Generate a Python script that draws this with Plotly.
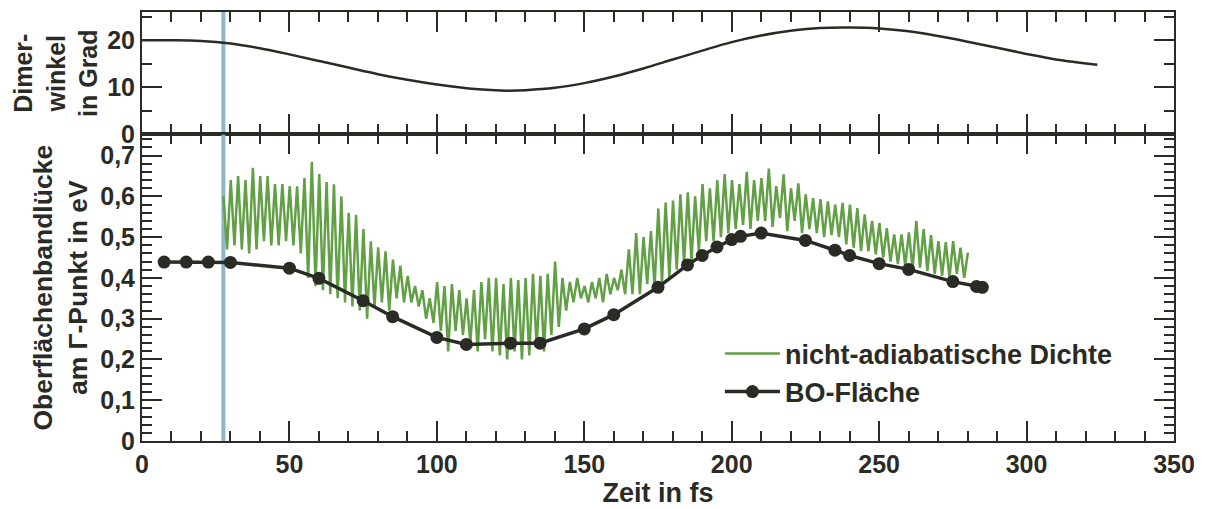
import plotly.graph_objects as go
from plotly.subplots import make_subplots

# ---------------- data ----------------
# Top panel: dimer angle (degrees) vs time (fs)
angle_t = [0, 10, 20, 30, 40, 50, 60, 70, 80, 90, 100, 110, 120, 125, 130, 140, 150,
           160, 170, 180, 190, 200, 210, 220, 230, 240, 250, 260, 270, 280, 290, 300, 310, 324]
angle_deg = [20.0, 20.0, 19.85, 19.3, 18.3, 17.0, 15.6, 14.2, 12.8, 11.6, 10.6, 9.8, 9.4, 9.3,
             9.4, 9.9, 10.9, 12.3, 14.0, 15.9, 17.8, 19.6, 21.0, 22.0, 22.6, 22.7, 22.5, 21.9,
             20.9, 19.7, 18.4, 17.1, 15.9, 14.8]

# Bottom panel: BO surface band gap
bo_t = [7.5, 15, 22.5, 30, 50, 60, 75, 85, 100, 110, 125, 135, 150, 160, 175, 185, 190,
        195, 200, 203, 210, 225, 235, 240, 250, 260, 275, 283, 285]
bo_gap = [0.439, 0.439, 0.439, 0.438, 0.424, 0.399, 0.344, 0.305, 0.254, 0.237, 0.240, 0.240,
          0.275, 0.310, 0.377, 0.432, 0.455, 0.476, 0.494, 0.502, 0.510, 0.492, 0.468, 0.455,
          0.435, 0.421, 0.391, 0.379, 0.377]

# Non-adiabatic density: alternating maxima / minima
na_t0 = 27.6      # first sample (fs)
na_step = 1.25    # spacing between successive extrema (fs)
na_gap = [
    0.60, 0.47, 0.64, 0.48, 0.65, 0.47, 0.64, 0.46, 0.67, 0.47,
    0.65, 0.49, 0.65, 0.48, 0.63, 0.48, 0.63, 0.49, 0.625, 0.48,
    0.625, 0.46, 0.645, 0.40, 0.685, 0.38, 0.655, 0.37, 0.635, 0.36,
    0.63, 0.35, 0.60, 0.34, 0.56, 0.33, 0.555, 0.32, 0.52, 0.30,
    0.49, 0.33, 0.475, 0.34, 0.465, 0.32, 0.445, 0.35, 0.43, 0.34,
    0.405, 0.34, 0.38, 0.33, 0.37, 0.30, 0.35, 0.29, 0.39, 0.27,
    0.38, 0.22, 0.385, 0.27, 0.37, 0.26, 0.35, 0.24, 0.37, 0.22,
    0.39, 0.25, 0.40, 0.22, 0.40, 0.21, 0.385, 0.20, 0.40, 0.22,
    0.395, 0.20, 0.40, 0.21, 0.41, 0.23, 0.405, 0.22, 0.41, 0.26,
    0.44, 0.28, 0.40, 0.32, 0.39, 0.34, 0.40, 0.35, 0.38, 0.34,
    0.39, 0.35, 0.40, 0.34, 0.41, 0.36, 0.40, 0.37, 0.42, 0.36,
    0.47, 0.36, 0.51, 0.36, 0.50, 0.385, 0.515, 0.38, 0.57, 0.39,
    0.585, 0.40, 0.59, 0.42, 0.605, 0.435, 0.61, 0.44, 0.60, 0.465,
    0.63, 0.49, 0.62, 0.49, 0.64, 0.50, 0.655, 0.51, 0.64, 0.52,
    0.63, 0.53, 0.66, 0.52, 0.64, 0.54, 0.645, 0.54, 0.668, 0.525,
    0.625, 0.547, 0.654, 0.515, 0.62, 0.54, 0.632, 0.51, 0.605, 0.52,
    0.596, 0.51, 0.593, 0.50, 0.588, 0.505, 0.58, 0.50, 0.584, 0.482,
    0.58, 0.474, 0.571, 0.466, 0.556, 0.465, 0.54, 0.458, 0.535, 0.45,
    0.522, 0.44, 0.507, 0.434, 0.507, 0.43, 0.512, 0.422, 0.54, 0.425,
    0.52, 0.417, 0.505, 0.41, 0.49, 0.405, 0.488, 0.40, 0.49, 0.41,
    0.474, 0.40, 0.462,
]
na_t = [na_t0 + na_step * i for i in range(len(na_gap))]

marker_time = 27.6  # vertical reference line (fs)

x_ticks = [0, 50, 100, 150, 200, 250, 300, 350]

# ---------------- figure ----------------
DARK = "#2b2b26"
GREEN = "#62a046"
BLUE = "#8fb5c6"
FONT = "Liberation Sans, Arial, sans-serif"

fig = make_subplots(rows=2, cols=1, shared_xaxes=True, vertical_spacing=0,
                    row_heights=[0.2854, 0.7146])

# vertical marker line in both panels
fig.add_trace(go.Scatter(x=[marker_time, marker_time], y=[0, 26], mode="lines",
                         line=dict(color=BLUE, width=4), showlegend=False,
                         hoverinfo="skip"), row=1, col=1)
fig.add_trace(go.Scatter(x=[marker_time, marker_time], y=[0, 0.752], mode="lines",
                         line=dict(color=BLUE, width=4), showlegend=False,
                         hoverinfo="skip"), row=2, col=1)

fig.add_trace(go.Scatter(x=angle_t, y=angle_deg, mode="lines", line_shape="spline",
                         line=dict(color=DARK, width=2.5), showlegend=False),
              row=1, col=1)

fig.add_trace(go.Scatter(x=na_t, y=na_gap, mode="lines", name="nicht-adiabatische Dichte",
                         line=dict(color=GREEN, width=2.5)), row=2, col=1)
fig.add_trace(go.Scatter(x=bo_t, y=bo_gap, mode="lines+markers", name="BO-Fläche",
                         line=dict(color=DARK, width=3.5),
                         marker=dict(color=DARK, size=13)), row=2, col=1)

axis_common = dict(showline=True, linewidth=2, linecolor=DARK, mirror="allticks",
                   ticks="inside", ticklen=20, tickwidth=1.5, tickcolor=DARK,
                   showgrid=False, zeroline=False,
                   tickfont=dict(family=FONT, size=25, color=DARK, weight="bold"))

fig.update_xaxes(**axis_common, range=[0, 350], tickvals=x_ticks,
                 minor=dict(ticks="inside", ticklen=10, tickwidth=1.5, tickcolor=DARK,
                            dtick=10, tick0=0, showgrid=False))
fig.update_xaxes(showticklabels=False, row=1, col=1)
fig.update_xaxes(title=dict(text="Zeit in fs", standoff=2,
                            font=dict(family=FONT, size=27, color=DARK, weight="bold")),
                 row=2, col=1)

fig.update_yaxes(**axis_common, range=[0, 26], dtick=10, tick0=0,
                 minor=dict(ticks="inside", ticklen=10, tickwidth=1.5, tickcolor=DARK,
                            dtick=5, tick0=0, showgrid=False),
                 title=dict(text="Dimer-<br>winkel<br>in Grad", standoff=2,
                            font=dict(family=FONT, size=25, color=DARK, weight="bold")),
                 row=1, col=1)
fig.update_yaxes(**axis_common, range=[0, 0.752], dtick=0.1, tick0=0,
                 minor=dict(ticks="inside", ticklen=10, tickwidth=1.5, tickcolor=DARK,
                            dtick=0.02, tick0=0, showgrid=False),
                 title=dict(text="Oberflächenbandlücke<br>am Γ-Punkt in eV", standoff=5,
                            font=dict(family=FONT, size=26.5, color=DARK, weight="bold")),
                 row=2, col=1)

fig.update_layout(
    width=1207, height=509,
    margin=dict(l=142, r=33, t=10, b=68),
    plot_bgcolor="white", paper_bgcolor="white",
    separators=", ",
    font=dict(family=FONT, color=DARK),
    legend=dict(x=0.56, y=0.26, xanchor="left", yanchor="top",
                bgcolor="rgba(0,0,0,0)", itemwidth=55,
                font=dict(family=FONT, size=27, color=DARK, weight="bold"),
                tracegroupgap=0),
)

fig.write_html("out.html", config={"displayModeBar": False},
               post_script="document.body.style.margin='0';document.body.style.overflow='hidden';")
